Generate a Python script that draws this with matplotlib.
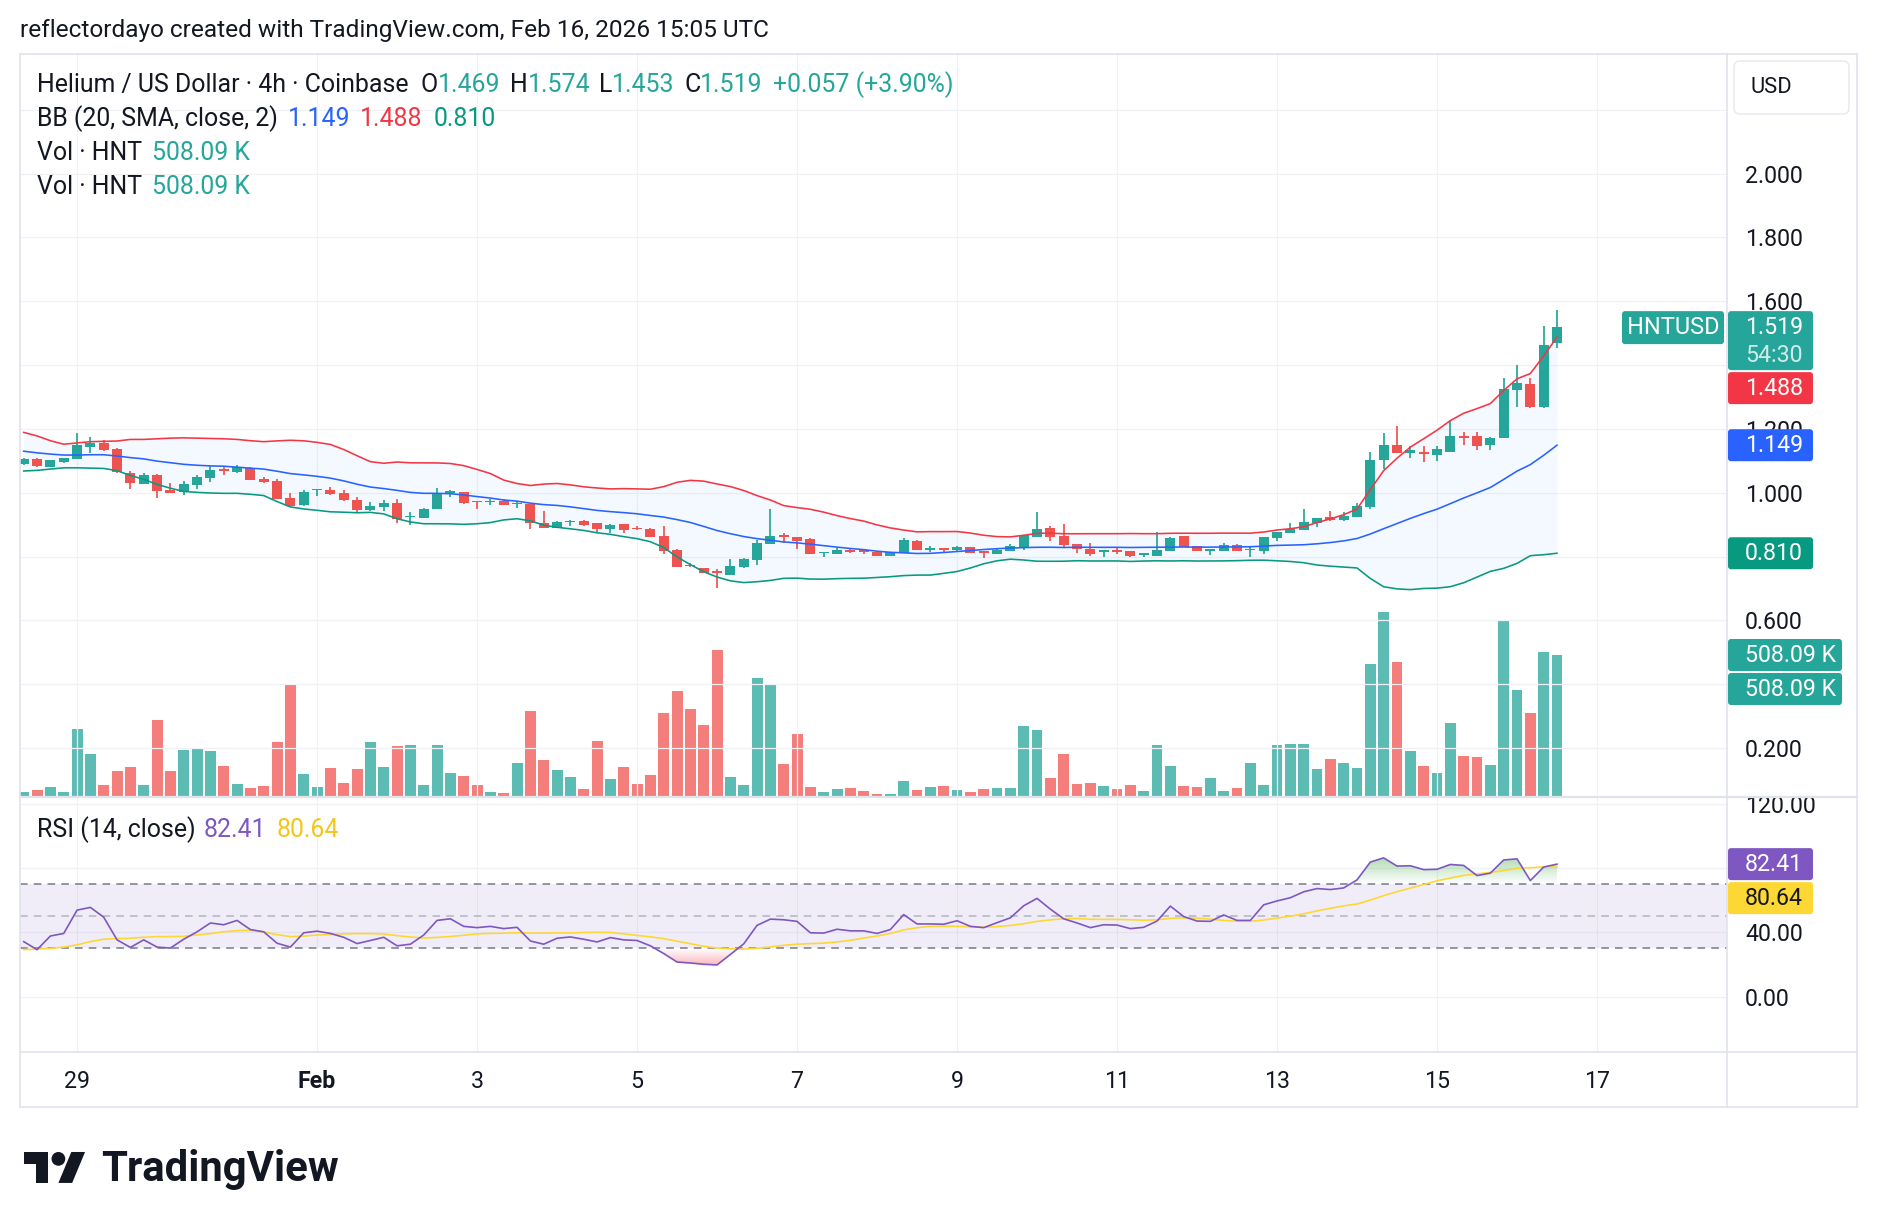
import numpy as np
import pandas as pd
import matplotlib
matplotlib.use("Agg")
import matplotlib.pyplot as plt
import matplotlib.colors as mcolors
import matplotlib.transforms as mtransforms
from matplotlib.patches import FancyBboxPatch, Polygon, Circle, Rectangle
from matplotlib.lines import Line2D
from matplotlib.path import Path

# ---------------- data ----------------
header = "reflectordayo created with TradingView.com, Feb 16, 2026 15:05 UTC"
symbol_title = "Helium / US Dollar \u00b7 4h \u00b7 Coinbase"
bb_title = "BB (20, SMA, close, 2)"
vol_title = "Vol \u00b7 HNT"
rsi_title = "RSI (14, close)"
ticker = "HNTUSD"
currency = "USD"
countdown = "54:30"

opens = [1.090, 1.106, 1.082, 1.097, 1.107, 1.144, 1.157, 1.137, 1.062, 1.028,
         1.055, 1.010, 1.002, 1.023, 1.047, 1.073, 1.066, 1.078, 1.042, 1.037,
         0.983, 0.960, 1.007, 1.009, 0.998, 0.977, 0.946, 0.956, 0.968, 0.923,
         0.922, 0.950, 1.000, 1.002, 0.974, 0.970, 0.973, 0.964, 0.964, 0.904,
         0.890, 0.908, 0.911, 0.904, 0.887, 0.901, 0.890, 0.887, 0.864, 0.820,
         0.774, 0.764, 0.754, 0.743, 0.768, 0.789, 0.839, 0.867, 0.860, 0.854,
         0.810, 0.809, 0.821, 0.819, 0.815, 0.802, 0.812, 0.848, 0.820, 0.827,
         0.820, 0.830, 0.817, 0.809, 0.818, 0.828, 0.862, 0.889, 0.864, 0.839,
         0.823, 0.815, 0.820, 0.817, 0.806, 0.802, 0.818, 0.864, 0.833, 0.818,
         0.818, 0.836, 0.820, 0.818, 0.859, 0.875, 0.884, 0.906, 0.925, 0.915,
         0.925, 0.955, 1.101, 1.148, 1.126, 1.128, 1.117, 1.129, 1.177, 1.177,
         1.149, 1.172, 1.323, 1.340, 1.268, 1.469]
highs = [1.110, 1.109, 1.103, 1.109, 1.187, 1.175, 1.164, 1.140, 1.068, 1.062,
         1.059, 1.030, 1.037, 1.056, 1.084, 1.084, 1.086, 1.080, 1.050, 1.043,
         0.998, 1.010, 1.011, 1.017, 1.008, 0.985, 0.971, 0.977, 0.980, 0.939,
         0.952, 1.015, 1.008, 1.003, 0.975, 0.980, 0.979, 0.975, 0.965, 0.944,
         0.911, 0.914, 0.914, 0.905, 0.902, 0.902, 0.896, 0.889, 0.896, 0.823,
         0.781, 0.765, 0.760, 0.792, 0.795, 0.852, 0.949, 0.874, 0.861, 0.858,
         0.815, 0.827, 0.828, 0.823, 0.818, 0.815, 0.858, 0.852, 0.833, 0.828,
         0.833, 0.831, 0.818, 0.827, 0.839, 0.868, 0.939, 0.896, 0.902, 0.840,
         0.842, 0.821, 0.829, 0.818, 0.812, 0.877, 0.862, 0.865, 0.834, 0.824,
         0.842, 0.839, 0.830, 0.862, 0.878, 0.905, 0.949, 0.922, 0.943, 0.938,
         0.968, 1.129, 1.186, 1.208, 1.147, 1.145, 1.145, 1.229, 1.189, 1.189,
         1.176, 1.359, 1.401, 1.359, 1.523, 1.574]
lows = [1.088, 1.082, 1.081, 1.094, 1.105, 1.125, 1.132, 1.062, 1.011, 1.027,
        0.984, 0.999, 0.993, 1.011, 1.034, 1.056, 1.063, 1.040, 1.029, 0.979,
        0.956, 0.958, 0.991, 0.994, 0.975, 0.939, 0.943, 0.943, 0.906, 0.900,
        0.921, 0.949, 0.987, 0.966, 0.949, 0.961, 0.960, 0.953, 0.887, 0.889,
        0.889, 0.896, 0.897, 0.878, 0.873, 0.875, 0.882, 0.861, 0.809, 0.767,
        0.768, 0.748, 0.702, 0.742, 0.765, 0.774, 0.838, 0.843, 0.824, 0.808,
        0.799, 0.808, 0.811, 0.809, 0.801, 0.801, 0.811, 0.820, 0.814, 0.811,
        0.814, 0.811, 0.796, 0.808, 0.817, 0.820, 0.861, 0.848, 0.830, 0.811,
        0.803, 0.799, 0.808, 0.799, 0.799, 0.801, 0.817, 0.829, 0.817, 0.805,
        0.817, 0.817, 0.799, 0.809, 0.848, 0.874, 0.883, 0.893, 0.912, 0.912,
        0.924, 0.950, 1.073, 1.124, 1.110, 1.096, 1.099, 1.128, 1.149, 1.134,
        1.134, 1.171, 1.268, 1.267, 1.266, 1.453]
closes = [1.106, 1.083, 1.101, 1.109, 1.149, 1.157, 1.134, 1.064, 1.031, 1.054,
          1.006, 1.000, 1.026, 1.050, 1.071, 1.068, 1.082, 1.041, 1.034, 0.980,
          0.958, 1.002, 1.010, 0.997, 0.977, 0.946, 0.958, 0.968, 0.918, 0.927,
          0.949, 0.997, 1.005, 0.969, 0.970, 0.975, 0.962, 0.969, 0.906, 0.890,
          0.908, 0.912, 0.899, 0.886, 0.899, 0.884, 0.885, 0.862, 0.818, 0.768,
          0.769, 0.749, 0.749, 0.770, 0.792, 0.841, 0.864, 0.860, 0.850, 0.809,
          0.814, 0.820, 0.814, 0.813, 0.802, 0.814, 0.852, 0.821, 0.828, 0.820,
          0.830, 0.812, 0.812, 0.821, 0.833, 0.867, 0.886, 0.862, 0.836, 0.824,
          0.808, 0.820, 0.815, 0.802, 0.811, 0.820, 0.859, 0.830, 0.818, 0.823,
          0.836, 0.818, 0.823, 0.861, 0.877, 0.886, 0.908, 0.921, 0.915, 0.928,
          0.958, 1.101, 1.148, 1.125, 1.134, 1.121, 1.136, 1.177, 1.171, 1.147,
          1.171, 1.325, 1.343, 1.268, 1.462, 1.519]
volumes_k = [17, 24, 35, 17, 242, 153, 42, 92, 106, 42,
             274, 92, 167, 174, 163, 110, 45, 31, 38, 196,
             403, 81, 35, 103, 49, 99, 196, 106, 181, 185,
             42, 185, 85, 74, 42, 17, 13, 120, 307, 131,
             95, 70, 27, 199, 63, 106, 45, 78, 299, 378,
             314, 256, 525, 70, 42, 425, 403, 117, 224, 35,
             17, 27, 31, 20, 10, 10, 56, 24, 35, 38,
             24, 17, 27, 31, 31, 253, 239, 67, 153, 45,
             49, 38, 27, 42, 20, 185, 110, 38, 35, 67,
             20, 31, 120, 42, 185, 188, 189, 100, 137, 122,
             104, 476, 662, 484, 166, 111, 86, 265, 147, 144,
             115, 630, 383, 301, 519, 508.09]
rsi_values = [34.2, 29.2, 37.7, 39.3, 53.8, 55.5, 49.4, 35.3, 30.6, 35.3,
              30.8, 30.2, 35.7, 40.3, 45.8, 44.7, 47.4, 41.7, 40.3, 33.2,
              30.8, 39.7, 40.7, 39.3, 36.9, 33.0, 34.9, 36.9, 31.6, 32.6,
              38.3, 47.4, 48.4, 43.7, 42.9, 43.7, 42.3, 43.1, 34.6, 32.6,
              36.3, 37.1, 35.7, 34.0, 36.7, 35.3, 34.9, 31.6, 26.8, 21.5,
              20.9, 20.1, 19.7, 26.2, 32.8, 44.3, 48.2, 47.8, 46.8, 39.7,
              39.5, 41.9, 40.9, 40.9, 39.3, 41.7, 51.0, 45.2, 45.2, 45.0,
              47.2, 43.7, 42.9, 46.0, 49.0, 56.5, 61.1, 54.4, 48.4, 45.8,
              42.9, 44.7, 44.5, 42.3, 43.1, 47.0, 56.3, 49.8, 47.0, 46.8,
              50.8, 47.4, 47.4, 57.1, 59.5, 61.5, 65.2, 67.2, 66.6, 67.6,
              72.6, 83.7, 86.3, 81.2, 81.4, 79.0, 79.2, 82.2, 81.6, 75.3,
              76.8, 85.0, 85.7, 72.2, 80.6, 82.41]
# indicator values visible for the first bars (their look-back lies before the chart)
bb_upper_warmup = [1.189, 1.178, 1.163, 1.152, 1.156, 1.160, 1.161, 1.162, 1.167, 1.167,
                   1.169, 1.171, 1.172, 1.171, 1.170, 1.169, 1.167, 1.163, 1.160]
bb_basis_warmup = [1.130, 1.125, 1.121, 1.118, 1.118, 1.119, 1.119, 1.115, 1.110, 1.106,
                   1.099, 1.094, 1.089, 1.086, 1.084, 1.083, 1.080, 1.077, 1.074]
bb_lower_warmup = [1.068, 1.070, 1.074, 1.078, 1.078, 1.077, 1.076, 1.069, 1.054, 1.042,
                   1.026, 1.014, 1.004, 1.001, 0.999, 0.998, 0.998, 0.995, 0.991]
rsi_ma_warmup = [29.2, 29.6, 30.0, 30.8, 32.2, 34.2, 35.7, 36.1, 36.3, 36.9, 37.3, 37.3, 37.5]

date_tick_index = [4, 22, 34, 46, 58, 70, 82, 94, 106, 118]
date_tick_labels = ["29", "Feb", "3", "5", "7", "9", "11", "13", "15", "17"]
price_ticks = [0.2, 0.4, 0.6, 0.8, 1.0, 1.2, 1.4, 1.6, 1.8, 2.0, 2.2]
price_tick_labels = ["0.200", "", "0.600", "", "1.000", "1.200", "", "1.600", "1.800", "2.000", ""]
rsi_ticks = [0, 40, 80, 120]
rsi_tick_labels = ["0.00", "40.00", "", "120.00"]

# ---------------- derived series ----------------
o = np.array(opens); hi = np.array(highs); lo = np.array(lows); c = np.array(closes)
vol = np.array(volumes_k) * 1000.0
n = len(c)
x = np.arange(n)

cs = pd.Series(c)
basis = cs.rolling(20).mean().to_numpy()
sd = cs.rolling(20).std(ddof=0).to_numpy()
upper = basis + 2 * sd
lower = basis - 2 * sd
k = len(bb_basis_warmup)
basis[:k] = bb_basis_warmup
upper[:k] = bb_upper_warmup
lower[:k] = bb_lower_warmup

rsi = np.array(rsi_values)
rsi_ma = pd.Series(rsi).rolling(14).mean().to_numpy()
rsi_ma[:len(rsi_ma_warmup)] = rsi_ma_warmup

# ---------------- style ----------------
UP = '#26A69A'; DN = '#EF5350'
UP_VOL = (38/255, 166/255, 154/255, 0.75)
DN_VOL = (239/255, 83/255, 80/255, 0.75)
BB_UP = '#F23645'; BB_MID = '#2962FF'; BB_LO = '#089981'
BB_FILL = (33/255, 150/255, 243/255, 0.05)
RSI_C = '#7E57C2'; RSI_MA_C = '#FDD835'
DARK = '#131722'
GRID = '#F0F1F4'
FRAME = '#E0E3EB'

plt.rcParams['font.family'] = ['Roboto', 'DejaVu Sans']

W, H = 1878, 1228
fig = plt.figure(figsize=(W / 100, H / 100), dpi=100)
fig.patch.set_facecolor('white')
renderer = fig.canvas.get_renderer()


def fx(px):
    return px / W


def fy(py):
    return 1 - py / H


def fit(text, width_px, weight='normal'):
    t = fig.text(0, 0, text, fontsize=20, fontweight=weight)
    w = t.get_window_extent(renderer).width
    t.remove()
    return 20 * width_px / w


FS_HDR = fit(header, 748)
FS_LEG = fit(symbol_title, 371)
FS_AX = fit("2.000", 58)
FS_LOGO = fit("TradingView", 237, 'bold')

# ---------------- layout ----------------
L, R = 20, 1727
TOP, SEP, BOT = 54, 797, 1052
axv = fig.add_axes([fx(L), fy(SEP), (R - L) / W, (SEP - TOP) / H])
ax = fig.add_axes([fx(L), fy(SEP), (R - L) / W, (SEP - TOP) / H], sharex=axv)
axr = fig.add_axes([fx(L), fy(BOT), (R - L) / W, (BOT - SEP) / H], sharex=axv)
ax.patch.set_visible(False)
for a in (ax, axv, axr):
    for s in a.spines.values():
        s.set_visible(False)

# volume
vcol = [UP_VOL if c[i] >= o[i] else DN_VOL for i in range(n)]
axv.bar(x, vol, width=0.82, color=vcol, linewidth=0)
axv.set_yticks([])
axv.tick_params(axis='x', length=0, labelbottom=False)

# bollinger
ax.fill_between(x, lower, upper, color=BB_FILL, lw=0, zorder=1)
# candles
ccol = [UP if c[i] >= o[i] else DN for i in range(n)]
ax.vlines(x, lo, hi, colors=ccol, lw=1.25, zorder=3)
body_lo = np.minimum(o, c)
body_h = np.maximum(np.abs(c - o), 0.004)
ax.bar(x, body_h, bottom=body_lo, width=0.75, color=ccol, linewidth=0, zorder=4)
ax.plot(x, upper, color=BB_UP, lw=1.15, zorder=5)
ax.plot(x, basis, color=BB_MID, lw=1.15, zorder=5)
ax.plot(x, lower, color=BB_LO, lw=1.15, zorder=5)

# RSI pane
axr.axhspan(30, 70, color=(126/255, 87/255, 194/255, 0.1), lw=0, zorder=1)
axr.axhline(70, color='#787B86', lw=1.1, ls=(0, (5, 4)), zorder=2)
axr.axhline(50, color='#B2B5BE', lw=1.1, ls=(0, (5, 4)), zorder=2)
axr.axhline(30, color='#787B86', lw=1.1, ls=(0, (5, 4)), zorder=2)


def gradient_fill(axis, xs, ys, base, color, amax, above):
    ys = np.asarray(ys, float)
    mask = ys > base if above else ys < base
    if not mask.any():
        return
    coll = axis.fill_between(xs, ys, base, where=mask, interpolate=True,
                             facecolor='none', edgecolor='none', lw=0)
    clip = Path.make_compound_path(*coll.get_paths())
    ext = ys[mask].max() if above else ys[mask].min()
    g = np.linspace(0, 1, 256)
    rgba = np.zeros((256, 1, 4))
    rgba[:, 0, :3] = mcolors.to_rgb(color)
    if above:
        rgba[:, 0, 3] = g * amax
        extent = [xs[0], xs[-1], base, ext]
    else:
        rgba[:, 0, 3] = g[::-1] * amax
        extent = [xs[0], xs[-1], ext, base]
    im = axis.imshow(rgba, extent=extent, origin='lower', aspect='auto',
                     interpolation='bilinear', zorder=2.5)
    im.set_clip_path(clip, axis.transData)


gradient_fill(axr, x, rsi, 70, '#4CAF50', 0.45, True)
gradient_fill(axr, x, rsi, 30, '#F23645', 0.35, False)
axr.plot(x, rsi, color=RSI_C, lw=1.2, zorder=4)
axr.plot(x, rsi_ma, color=RSI_MA_C, lw=1.2, zorder=3)

# limits
axv.set_xlim(-0.28, 127.75)
ax.set_ylim(0.0461, 2.3752)
axv.set_ylim(0, vol.max() / 0.249)
axr.set_ylim(-34.46, 124.17)

# ticks & grid
ax.set_xticks(date_tick_index)
ax.tick_params(axis='x', length=0, labelbottom=False)
axr.tick_params(axis='x', length=0, labelbottom=False)
ax.yaxis.tick_right()
ax.set_yticks(price_ticks)
ax.set_yticklabels(price_tick_labels)
ax.tick_params(axis='y', length=0, pad=13, labelsize=FS_AX, labelcolor=DARK)
axr.yaxis.tick_right()
axr.set_yticks(rsi_ticks)
axr.set_yticklabels(rsi_tick_labels)
axr.tick_params(axis='y', length=0, pad=13, labelsize=FS_AX, labelcolor=DARK)
for a in (ax, axr):
    a.grid(True, color=GRID, lw=0.9, zorder=0)
    a.set_axisbelow(True)

# date labels
dtr = mtransforms.blended_transform_factory(axr.transData, fig.transFigure)
for xi, lab in zip(date_tick_index, date_tick_labels):
    axr.text(xi, fy(1081.5), lab, transform=dtr, ha='center', va='center',
             fontsize=FS_AX, color=DARK, fontweight='bold' if lab.isalpha() else 'normal',
             clip_on=False)

# ---------------- header & legends ----------------
fig.text(fx(20), fy(31), header, fontsize=FS_HDR, color=DARK, va='center', ha='left')


def runs(x_px, y_px, parts, fs=None):
    fs = fs or FS_LEG
    xx = x_px
    for txt, col in parts:
        t = fig.text(fx(xx), fy(y_px), txt, color=col, fontsize=fs, va='center', ha='left')
        xx += t.get_window_extent(renderer).width


chg = c[-1] - c[-2]
pct = chg / c[-2] * 100
runs(37, 85, [(symbol_title, DARK)])
runs(421, 85, [("O", DARK), (f"{o[-1]:.3f}", UP)])
runs(510, 85, [("H", DARK), (f"{hi[-1]:.3f}", UP)])
runs(599, 85, [("L", DARK), (f"{lo[-1]:.3f}", UP)])
runs(684, 85, [("C", DARK), (f"{c[-1]:.3f}", UP)])
runs(773, 85, [(f"{chg:+.3f} ({pct:+.2f}%)", UP)])
runs(37, 118.5, [(bb_title, DARK)])
runs(288, 118.5, [(f"{basis[-1]:.3f}", BB_MID)])
runs(360, 118.5, [(f"{upper[-1]:.3f}", BB_UP)])
runs(434, 118.5, [(f"{lower[-1]:.3f}", BB_LO)])
vol_txt = f"{vol[-1] / 1000:.2f} K"
for yy in (153.5, 187):
    runs(37, yy, [(vol_title, DARK)])
    runs(152, yy, [(vol_txt, UP)])
runs(37, 830, [(rsi_title, DARK)])
runs(204, 830, [(f"{rsi[-1]:.2f}", RSI_C)])
runs(277, 830, [(f"{rsi_ma[-1]:.2f}", '#F5C518')])

# ---------------- right-axis value labels ----------------
IDT = mtransforms.IdentityTransform()


def px_y(axis, v):
    return H - axis.transData.transform((0, v))[1]


def draw_box(x0, top, w, h, face, z=10):
    p = FancyBboxPatch((x0, H - top - h), w, h, boxstyle="round,pad=0,rounding_size=3",
                       transform=IDT, facecolor=face, edgecolor='none', zorder=z)
    fig.add_artist(p)


def stack(entries, x0=1728, gap=2):
    prev_bottom = -1e9
    tops = []
    for e in sorted(entries, key=lambda d: d['y']):
        h = 32 + 27 * (len(e['lines']) - 1)
        top = e['y'] - 16
        if top < prev_bottom + gap:
            top = prev_bottom + gap
        draw_box(x0, top, e['w'], h, e['face'])
        for j, (txt, alpha) in enumerate(e['lines']):
            fig.text(fx(1745), fy(top + 16.5 + 27.5 * j), txt, fontsize=FS_AX, color=e['tc'],
                     alpha=alpha, va='center', ha='left', zorder=11)
        prev_bottom = top + h
        tops.append((e, top))
    return tops


price_entries = [
    dict(y=px_y(ax, c[-1]), lines=[(f"{c[-1]:.3f}", 1.0), (countdown, 0.78)], face=UP, tc='white', w=85, main=True),
    dict(y=px_y(ax, upper[-1]), lines=[(f"{upper[-1]:.3f}", 1.0)], face=BB_UP, tc='white', w=85),
    dict(y=px_y(ax, basis[-1]), lines=[(f"{basis[-1]:.3f}", 1.0)], face=BB_MID, tc='white', w=85),
    dict(y=px_y(ax, lower[-1]), lines=[(f"{lower[-1]:.3f}", 1.0)], face=BB_LO, tc='white', w=85),
    dict(y=px_y(axv, vol[-1]), lines=[(vol_txt, 1.0)], face=UP, tc='white', w=114),
    dict(y=px_y(axv, vol[-1]) + 0.01, lines=[(vol_txt, 1.0)], face=UP, tc='white', w=114),
]
placed = stack(price_entries)
for e, top in placed:
    if e.get('main'):
        draw_box(1622, top, 102, 33, UP)
        fig.text(fx(1673), fy(top + 16.5), ticker, fontsize=FS_AX * 1.02, color='white',
                 va='center', ha='center', zorder=11)

rsi_entries = [
    dict(y=px_y(axr, rsi[-1]), lines=[(f"{rsi[-1]:.2f}", 1.0)], face=RSI_C, tc='white', w=85),
    dict(y=px_y(axr, rsi_ma[-1]), lines=[(f"{rsi_ma[-1]:.2f}", 1.0)], face=RSI_MA_C, tc=DARK, w=85),
]
stack(rsi_entries)

# currency box
fig.add_artist(FancyBboxPatch((1734, H - 114), 115, 53, boxstyle="round,pad=0,rounding_size=6",
                              transform=IDT, facecolor='white', edgecolor='#E6E8EE', lw=1.0, zorder=10))
fig.text(fx(1751), fy(87.5), currency, fontsize=FS_AX * 0.95, color=DARK, va='center', ha='left', zorder=11)

# clip the top of the "120.00" label at the pane separator
fig.add_artist(Rectangle((1728, H - 796), 128, 16, transform=IDT, facecolor='white',
                         edgecolor='none', zorder=9))

# ---------------- frame lines ----------------
def fline(x1, y1, x2, y2, col=FRAME, lw=1.2, z=12):
    fig.add_artist(Line2D([fx(x1), fx(x2)], [fy(y1), fy(y2)], transform=fig.transFigure,
                          color=col, lw=lw, zorder=z))


fline(20, 54, 1857, 54)
fline(20, 1107, 1857, 1107)
fline(20, 54, 20, 1107)
fline(1857, 54, 1857, 1107)
fline(1727, 54, 1727, 1107)
fline(20, 797, 1857, 797, col='#E0E3EB', lw=1.6)
fline(20, 1052, 1857, 1052)

# ---------------- TradingView logo ----------------
s, ox, oy = 1.72, 24, 1145.1


def lp(u, v):
    return (ox + s * u, H - (oy + s * v))


fig.add_artist(Polygon([lp(*p) for p in [(14, 22), (7, 22), (7, 11), (0, 11), (0, 4), (14, 4)]],
                       closed=True, transform=IDT, facecolor=DARK, edgecolor='none'))
fig.add_artist(Polygon([lp(*p) for p in [(28, 22), (20, 22), (27.5, 4), (35.5, 4)]],
                       closed=True, transform=IDT, facecolor=DARK, edgecolor='none'))
fig.add_artist(Circle(lp(20, 8), 4 * s, transform=IDT, facecolor=DARK, edgecolor='none'))
fig.text(fx(101), fy(1170), "TradingView", fontsize=FS_LOGO, fontweight='bold', color=DARK,
         va='center', ha='left')

fig.savefig("out.png", dpi=100, facecolor='white')
